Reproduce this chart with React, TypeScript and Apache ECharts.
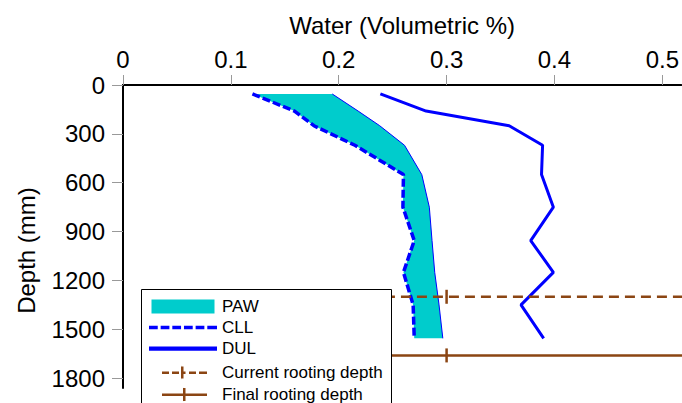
import React, { useEffect, useRef } from "react";
import * as echarts from "echarts";

// Depths (mm) of the profile points
const depths = [55, 160, 250, 370, 550, 750, 955, 1150, 1350, 1555];
// Crop lower limit (volumetric)
const cll = [0.12, 0.159, 0.177, 0.215, 0.26, 0.2595, 0.27, 0.26, 0.269, 0.27];
// Upper edge of plant-available water band
const pawUpper = [0.194, 0.218, 0.238, 0.261, 0.277, 0.284, 0.2865, 0.289, 0.293, 0.2965];
// Drained upper limit
const dul = [0.2386, 0.281, 0.358, 0.389, 0.388, 0.399, 0.378, 0.399, 0.369, 0.39];
// Rooting depths (mm)
const currentRootDepth = 1300;
const finalRootDepth = 1660;
const rootLineX = [0.05, 0.3, 0.6];

const xTicks = [0, 0.1, 0.2, 0.3, 0.4, 0.5];
const yTicks = [0, 300, 600, 900, 1200, 1500, 1800];

const BLUE = "#0000FF";
const CYAN = "#00CCCC";
const BROWN = "#8B4513";
const FONT = "Liberation Sans";

export default function App() {
  const ref = useRef<HTMLDivElement>(null);
  useEffect(() => {
    if (!ref.current) return;
    const chart = echarts.init(ref.current, undefined, { renderer: "svg" });
    const pair = (xs: number[]) => xs.map((x, i) => [x, depths[i]]);
    const legendText = { fontSize: 17, color: "#000", fontFamily: FONT, lineHeight: 14 };
    const option: any = {
      animation: false,
      backgroundColor: "#fff",
      grid: { left: 123, top: 85, width: 559, height: 303, containLabel: false },
      xAxis: {
        type: "value",
        position: "top",
        min: 0,
        max: 0.5176,
        name: "Water (Volumetric %)",
        nameLocation: "middle",
        nameGap: 48,
        nameTextStyle: { fontSize: 24, color: "#000", fontFamily: FONT },
        axisLine: { show: true, onZero: false, lineStyle: { color: "#000", width: 2 } },
        axisTick: { show: true, length: 10, lineStyle: { color: "#999", width: 1 }, customValues: xTicks },
        axisLabel: {
          fontSize: 24,
          color: "#000",
          fontFamily: FONT,
          margin: 14,
          customValues: xTicks,
          formatter: (v: number) => String(Math.round(v * 10) / 10),
        },
        splitLine: { show: false },
      },
      yAxis: {
        type: "value",
        inverse: true,
        min: 0,
        max: 1860,
        name: "Depth (mm)",
        nameLocation: "middle",
        nameGap: 85,
        nameTextStyle: { fontSize: 24, color: "#000", fontFamily: FONT, padding: [0, 28, 0, 0] },
        axisLine: { show: true, onZero: false, lineStyle: { color: "#000", width: 2 } },
        axisTick: { show: true, length: 11, lineStyle: { color: "#999", width: 1 }, customValues: yTicks },
        axisLabel: {
          fontSize: 24,
          color: "#000",
          fontFamily: FONT,
          margin: 18,
          customValues: yTicks,
          formatter: (v: number) => String(v),
        },
        splitLine: { show: false },
      },
      graphic: [
        {
          type: "rect",
          z: 3,
          shape: { x: 141.5, y: 289.5, width: 250, height: 140 },
          style: { fill: "#fff", stroke: "#000", lineWidth: 1 },
        },
      ],
      legend: [
        {
          left: 149,
          top: 298,
          orient: "vertical",
          padding: 0,
          itemWidth: 68,
          itemHeight: 14,
          itemGap: 4,
          selectedMode: false,
          textStyle: legendText,
          data: [
            { name: "PAW", icon: "path://M0,0h63v14h-63z", itemStyle: { color: CYAN, borderWidth: 0 } },
            {
              name: "CLL",
              icon: "path://M0,0h9v3.5h-9z M12,0h9v3.5h-9z M24,0h9v3.5h-9z M36,0h9v3.5h-9z M48,0h9v3.5h-9z M60,0h10v3.5h-10z",
              itemStyle: { color: BLUE, borderWidth: 0 },
            },
            { name: "DUL", icon: "path://M0,0h72v4.5h-72z", itemStyle: { color: BLUE, borderWidth: 0 } },
          ],
        },
        {
          left: 162,
          top: 364,
          orient: "horizontal",
          padding: 0,
          itemWidth: 45,
          itemHeight: 14,
          selectedMode: false,
          textStyle: { ...legendText, padding: [0, 0, 0, 10] },
          data: [
            {
              name: "Current rooting depth",
              icon: "path://M0,6h7v2.5h-7z M10,6h7v2.5h-7z M19,1h2.5v12h-2.5z M21.5,6h2v2.5h-2z M27,6h7v2.5h-7z M37,6h8v2.5h-8z M19,0h0.1v14h-0.1z",
              itemStyle: { color: BROWN, borderWidth: 0 },
            },
          ],
        },
        {
          left: 162,
          top: 386,
          orient: "horizontal",
          padding: 0,
          itemWidth: 45,
          itemHeight: 14,
          selectedMode: false,
          textStyle: { ...legendText, padding: [0, 0, 0, 10] },
          data: [
            {
              name: "Final rooting depth",
              icon: "path://M0,6h45v2.5h-45z M21,0.5h2.5v13h-2.5z M21,0h0.1v14h-0.1z",
              itemStyle: { color: BROWN, borderWidth: 0 },
            },
          ],
        },
      ],
      series: [
        {
          name: "PAW",
          type: "custom",
          z: 1,
          itemStyle: { color: CYAN },
          data: [[0, 0]],
          renderItem: (params: any, api: any) => {
            if (params.dataIndex !== 0) return;
            const left = cll.map((x, i) => api.coord([x, depths[i]]));
            const right = pawUpper.map((x, i) => api.coord([x, depths[i]])).reverse();
            return {
              type: "polygon",
              shape: { points: left.concat(right) },
              style: { fill: CYAN, stroke: "none" },
            };
          },
        },
        {
          name: "PAW edge",
          type: "line",
          z: 2,
          data: pair(pawUpper),
          symbol: "none",
          lineStyle: { color: BLUE, width: 1 },
          itemStyle: { color: BLUE },
        },
        {
          name: "CLL",
          type: "line",
          z: 2,
          data: pair(cll),
          symbol: "none",
          lineStyle: { color: BLUE, width: 3.5, type: [8, 3] },
          itemStyle: { color: BLUE },
        },
        {
          name: "DUL",
          type: "line",
          z: 2,
          data: pair(dul),
          symbol: "none",
          lineStyle: { color: BLUE, width: 3 },
          itemStyle: { color: BLUE },
        },
        {
          name: "Current rooting depth",
          type: "line",
          z: 2,
          clip: true,
          data: rootLineX.map((x) => [x, currentRootDepth]),
          symbol: "rect",
          symbolSize: [2.5, 14],
          showSymbol: true,
          lineStyle: { color: BROWN, width: 2.5, type: [10, 6] },
          itemStyle: { color: BROWN, borderWidth: 0 },
        },
        {
          name: "Final rooting depth",
          type: "line",
          z: 2,
          clip: true,
          data: rootLineX.map((x) => [x, finalRootDepth]),
          symbol: "rect",
          symbolSize: [2.5, 14],
          showSymbol: true,
          lineStyle: { color: BROWN, width: 2.5 },
          itemStyle: { color: BROWN, borderWidth: 0 },
        },
      ],
    };
    chart.setOption(option);
    return () => chart.dispose();
  }, []);
  return (
    <div
      ref={ref}
      style={{ position: "absolute", left: 0, top: 0, width: 682, height: 403, background: "#fff" }}
    />
  );
}
